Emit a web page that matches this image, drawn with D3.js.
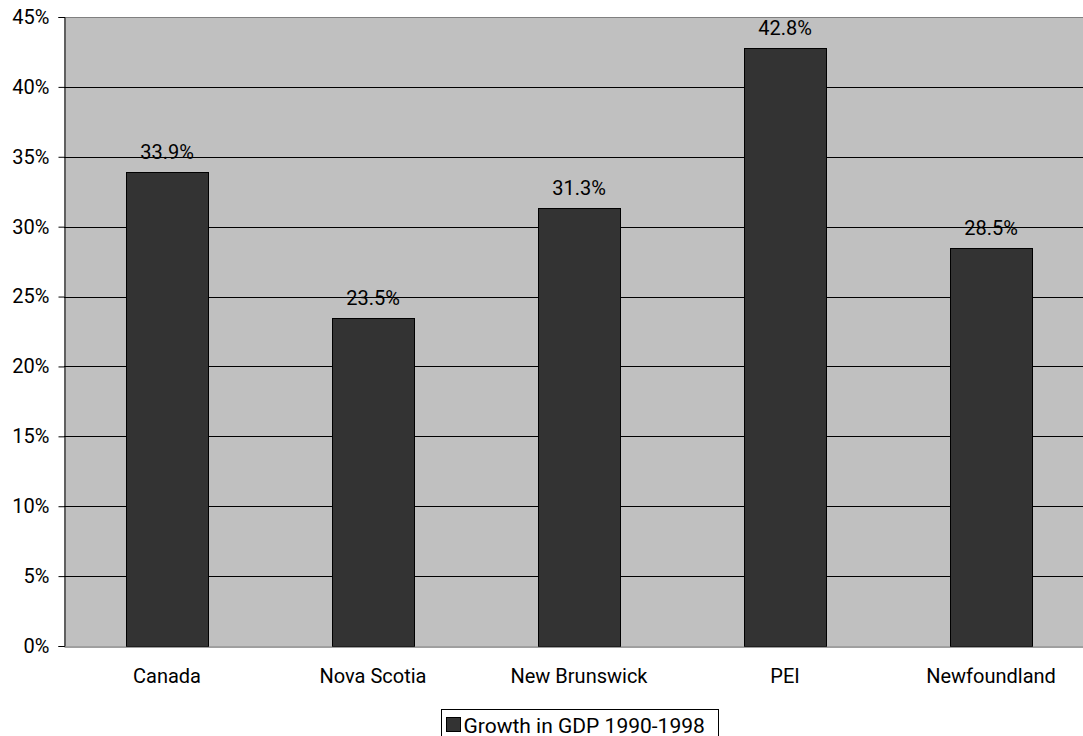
<!DOCTYPE html>
<html>
<head>
<meta charset="utf-8">
<script src="https://cdn.jsdelivr.net/npm/d3@7"></script>
<style>
  html, body { margin: 0; padding: 0; background: #fff; }
  svg { display: block; font-family: Roboto, "Liberation Sans", sans-serif; }
</style>
</head>
<body>
<svg id="chart" width="1083" height="736"></svg>
<script>
// GDP growth by province, 1990-1998
const categories = ["Canada", "Nova Scotia", "New Brunswick", "PEI", "Newfoundland"];
const growth = [33.9, 23.5, 31.3, 42.8, 28.5];
const yTicks = [0, 5, 10, 15, 20, 25, 30, 35, 40, 45];
const seriesName = "Growth in GDP 1990-1998";

const svg = d3.select("#chart");
const plot = { left: 64, right: 1094, top: 17, bottom: 646 };

const x = d3.scaleBand()
  .domain(categories)
  .range([plot.left, plot.right])
  .paddingInner(0.6)
  .paddingOuter(0.3);

const y = d3.scaleLinear()
  .domain([0, 45])
  .range([plot.bottom, plot.top]);

// plot area background
svg.append("rect")
  .attr("x", plot.left).attr("y", plot.top)
  .attr("width", plot.right - plot.left)
  .attr("height", plot.bottom - plot.top)
  .attr("fill", "#c0c0c0");

// horizontal gridlines
svg.append("g")
  .selectAll("line")
  .data(yTicks.filter(t => t > 0))
  .join("line")
  .attr("x1", plot.left).attr("x2", plot.right)
  .attr("y1", d => Math.round(y(d)) + 0.5)
  .attr("y2", d => Math.round(y(d)) + 0.5)
  .attr("stroke", d => d === 45 ? "#808080" : "#000")
  .attr("stroke-width", 1);

// bars
svg.append("g")
  .selectAll("rect")
  .data(categories.map((c, i) => ({ c, v: growth[i] })))
  .join("rect")
  .attr("x", d => Math.round(x(d.c)) + 0.5)
  .attr("y", d => Math.round(y(d.v)) + 0.5)
  .attr("width", Math.round(x.bandwidth()))
  .attr("height", d => Math.round(y(0)) - Math.round(y(d.v)))
  .attr("fill", "#333333")
  .attr("stroke", "#000")
  .attr("stroke-width", 1);

// value labels
svg.append("g")
  .selectAll("text")
  .data(categories.map((c, i) => ({ c, v: growth[i] })))
  .join("text")
  .attr("x", d => x(d.c) + x.bandwidth() / 2)
  .attr("y", d => y(d.v) - 13)
  .attr("text-anchor", "middle")
  .attr("font-size", 20)
  .attr("fill", "#000")
  .text(d => d.v.toFixed(1) + "%");

// y axis
const yAxis = svg.append("g")
  .attr("transform", `translate(${plot.left + 0.5},0)`)
  .call(d3.axisLeft(y).tickValues(yTicks).tickSize(6).tickPadding(9)
    .tickFormat(d => d + "%"));
yAxis.select(".domain").attr("stroke", "#000");
yAxis.selectAll(".tick line").attr("stroke", "#000");
yAxis.selectAll("text").attr("font-size", 20).attr("fill", "#000")
  .attr("font-family", "Roboto, 'Liberation Sans', sans-serif");

// x axis
const xAxis = svg.append("g")
  .attr("transform", `translate(0,${Math.round(y(0)) + 0.5})`)
  .call(d3.axisBottom(x).tickSize(0).tickPadding(22));
xAxis.select(".domain").attr("stroke", "#404040");
xAxis.selectAll("text").attr("font-size", 20).attr("fill", "#000")
  .attr("font-family", "Roboto, 'Liberation Sans', sans-serif");

// legend
const legend = svg.append("g").attr("transform", "translate(441.5,709.5)");
legend.append("rect")
  .attr("width", 277).attr("height", 30)
  .attr("fill", "#fff").attr("stroke", "#000");
legend.append("rect")
  .attr("x", 5).attr("y", 8).attr("width", 14).attr("height", 14)
  .attr("fill", "#333333").attr("stroke", "#000");
legend.append("text")
  .attr("x", 22).attr("y", 23)
  .attr("font-size", 21)
  .attr("fill", "#000")
  .text(seriesName);
</script>
</body>
</html>
